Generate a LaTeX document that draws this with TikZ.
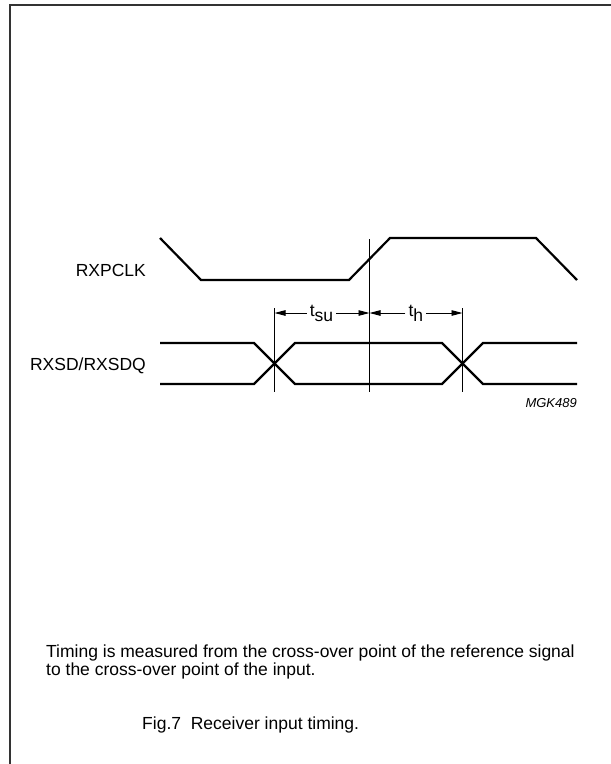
\documentclass[tikz,border=0pt]{standalone}
\usepackage{fontspec}
\setmainfont{Liberation Sans}
\usepackage{xcolor}
\definecolor{cLine}{HTML}{000000}
\definecolor{cFrame}{HTML}{333333}
\usepackage{tikz}
\usetikzlibrary{arrows.meta,calc}
\newcommand{\lowsub}[1]{\raisebox{-5pt}{#1}}
\tikzset{
  sig-line/.style={draw=cLine,line width=2.2pt,line join=miter},
  ref-line/.style={draw=cLine,line width=0.9pt},
  frame-line/.style={draw=cFrame,line width=2pt},
  dim-arrow/.style={-{Triangle[length=11pt,width=5.5pt]},draw=cLine,line width=0.9pt},
  sig-label/.style={anchor=base east,inner sep=0pt,font=\fontsize{17.5}{21}\selectfont},
  dim-label/.style={inner sep=3pt,font=\fontsize{17.5}{21}\selectfont},
  note-text/.style={anchor=base west,inner sep=0pt,font=\fontsize{17.5}{21}\selectfont},
  fig-id/.style={anchor=base east,inner sep=0pt,font=\fontsize{13}{15}\selectfont\itshape},
}

\begin{document}
\begin{tikzpicture}[x=1pt,y=-1pt]
  \useasboundingbox (0,0) rectangle (611,764);
  \draw[frame-line] (611,5) -- (10,5) -- (10,764);
  % signal names
  \node[sig-label] (clk-name)  at (146,276) {RXPCLK};
  \node[sig-label] (data-name) at (146,370) {RXSD/RXSDQ};
  % clock and data waveforms
  \draw[sig-line] (160,238) -- (201,280) -- (349,280) -- (390,238) -- (536,238) -- (577,280);
  \draw[sig-line] (160,343) -- (254,343) -- (295,384) -- (442,384) -- (483,343) -- (577,343);
  \draw[sig-line] (160,384) -- (254,384) -- (295,343) -- (442,343) -- (483,384) -- (577,384);
  % cross-over points
  \coordinate (x-su)  at (274.5,363.5);
  \coordinate (x-clk) at (369.5,259);
  \coordinate (x-h)   at (462.5,363.5);
  \draw[ref-line] (x-su |- 0,308)  -- (x-su |- 0,392);
  \draw[ref-line] (x-clk |- 0,239) -- (x-clk |- 0,392);
  \draw[ref-line] (x-h |- 0,308)   -- (x-h |- 0,392);
  % setup / hold times
  \node[dim-label] (tsu) at (321.5,313) {t\lowsub{su}};
  \node[dim-label] (th)  at (415.8,313) {t\lowsub{h}};
  \coordinate (su-l) at (x-su |- tsu);
  \coordinate (su-r) at (x-clk |- tsu);
  \coordinate (h-r)  at (x-h |- th);
  \draw[dim-arrow] (tsu) -- (su-l);
  \draw[dim-arrow] (tsu) -- (su-r);
  \draw[dim-arrow] (th)  -- (su-r);
  \draw[dim-arrow] (th)  -- (h-r);
  \node[fig-id] (fig-code) at (577,407) {MGK489};
  % note and caption
  \node[note-text] (note-a) at (46,657) {Timing is measured from the cross-over point of the reference signal};
  \node[note-text] (note-b) at (46,675) {to the cross-over point of the input.};
  \node[note-text] (caption) at (142,729) {Fig.7\ \ Receiver input timing.};
\end{tikzpicture}
\end{document}
